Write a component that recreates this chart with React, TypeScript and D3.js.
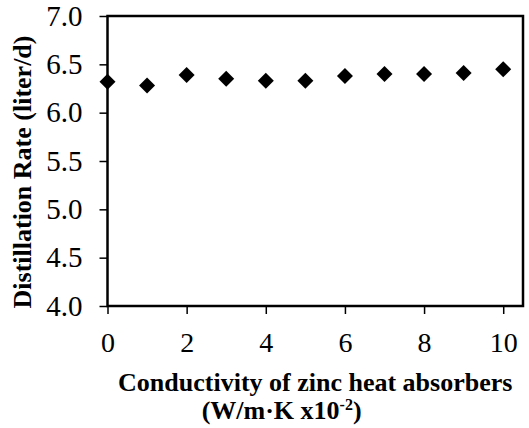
import React, { useEffect, useRef } from "react";
import * as d3 from "d3";

const conductivity = [0, 1, 2, 3, 4, 5, 6, 7, 8, 9, 10];
const distillationRate = [6.32, 6.28, 6.39, 6.35, 6.33, 6.33, 6.38, 6.4, 6.4, 6.41, 6.45];
const xTicks = [0, 2, 4, 6, 8, 10];
const yTicks = [4.0, 4.5, 5.0, 5.5, 6.0, 6.5, 7.0];

export default function App() {
  const svgRef = useRef<SVGSVGElement | null>(null);

  useEffect(() => {
    if (!svgRef.current) return;
    d3.select(svgRef.current).selectAll("*").remove();

    const W = 529;
    const H = 428;
    const margin = { top: 16, right: 6, bottom: 122, left: 107.5 };
    const width = W - margin.left - margin.right;
    const height = H - margin.top - margin.bottom;
    const font = "'Liberation Serif', 'Times New Roman', serif";

    const svg = d3.select(svgRef.current)
      .attr("width", W)
      .attr("height", H)
      .append("g")
      .attr("transform", `translate(${margin.left},${margin.top})`);

    const x = d3.scaleLinear().domain([0, 10.5]).range([0, width]);
    const y = d3.scaleLinear().domain([4, 7]).range([height, 0]);

    // Y axis
    svg.append("g")
      .call(d3.axisLeft(y).tickValues(yTicks).tickSize(8).tickPadding(17).tickFormat(d3.format(".1f")))
      .call(g => g.select(".domain").remove())
      .call(g => g.selectAll("line").attr("stroke", "#000").attr("stroke-width", 1.5))
      .call(g => g.selectAll("text")
        .style("font-family", font)
        .style("font-size", "29px")
        .attr("fill", "#000"));

    // X axis
    svg.append("g")
      .attr("transform", `translate(0,${height})`)
      .call(d3.axisBottom(x).tickValues(xTicks).tickSize(8).tickPadding(18).tickFormat(d3.format("d")))
      .call(g => g.select(".domain").remove())
      .call(g => g.selectAll("line").attr("stroke", "#000").attr("stroke-width", 1.5))
      .call(g => g.selectAll("text")
        .style("font-family", font)
        .style("font-size", "28px")
        .attr("fill", "#000"));

    // Plot frame
    svg.append("rect")
      .attr("x", 0)
      .attr("y", 0)
      .attr("width", width)
      .attr("height", height)
      .attr("fill", "none")
      .attr("stroke", "#000")
      .attr("stroke-width", 2.5);

    // Diamond markers
    const diamond = d3.symbol(d3.symbolSquare, 128);
    svg.selectAll(".pt")
      .data(conductivity)
      .enter()
      .append("path")
      .attr("d", diamond)
      .attr("transform", (d, i) => `translate(${x(d)},${y(distillationRate[i])}) rotate(45)`)
      .attr("fill", "#000");

    // Axis titles
    svg.append("text")
      .attr("x", width / 2)
      .attr("y", height + 85)
      .attr("text-anchor", "middle")
      .style("font-family", font)
      .style("font-weight", "bold")
      .style("font-size", "26px")
      .text("Conductivity of zinc heat absorbers");

    const t2 = svg.append("text")
      .attr("x", x(4.4))
      .attr("y", height + 113)
      .attr("text-anchor", "middle")
      .style("font-family", font)
      .style("font-weight", "bold")
      .style("font-size", "26px");
    t2.append("tspan").text("(W/m\u00B7K x10");
    t2.append("tspan").style("font-size", "16px").attr("dy", -9).text("-2");
    t2.append("tspan").attr("dy", 9).text(")");

    svg.append("text")
      .attr("transform", `translate(${31 - margin.left},${172 - margin.top}) rotate(-90)`)
      .attr("text-anchor", "middle")
      .style("font-family", font)
      .style("font-weight", "bold")
      .style("font-size", "26px")
      .text("Distillation Rate (liter/d)");
  }, []);

  return (
    <div style={{ position: "absolute", left: 0, top: 0, background: "#fff" }}>
      <svg ref={svgRef} style={{ display: "block" }} />
    </div>
  );
}
